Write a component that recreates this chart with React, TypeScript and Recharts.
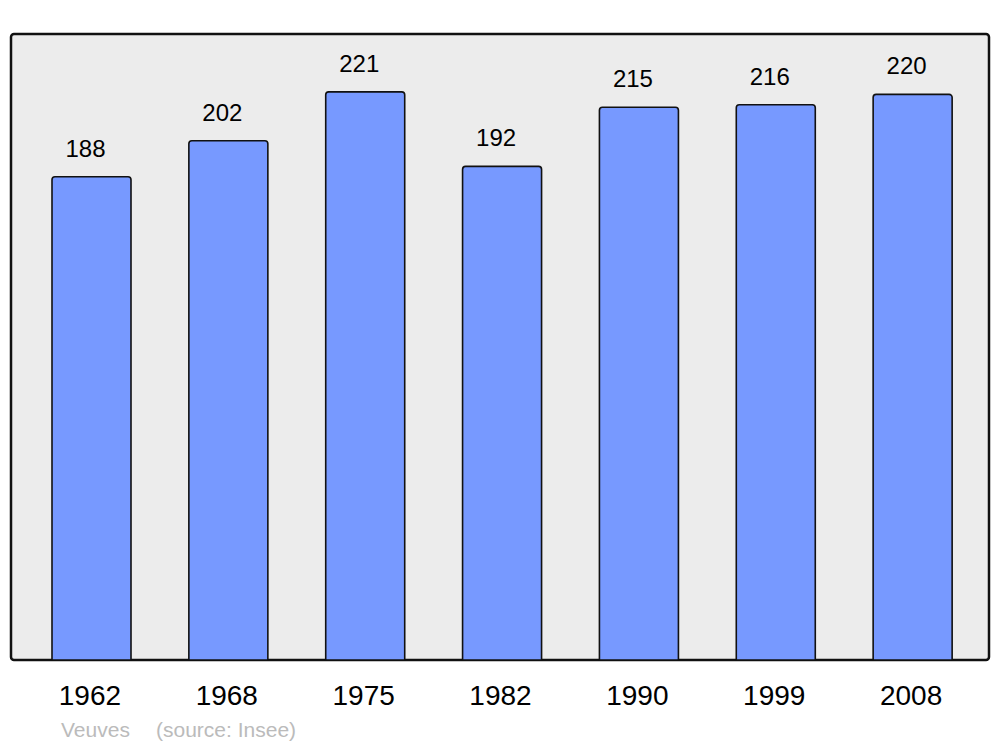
import React from 'react';
import { BarChart, Bar, XAxis, YAxis, LabelList, Customized } from 'recharts';

const years = ['1962', '1968', '1975', '1982', '1990', '1999', '2008'];
const values = [188, 202, 221, 192, 215, 216, 220];
const seriesName = 'Veuves';
const sourceText = '(source: Insee)';

const data = years.map((y, i) => ({ year: y, value: values[i] }));

const W = 1000;
const H = 747;
const AXIS_H = 30;
const margin = { top: 34, right: 11, bottom: 57, left: 11 };
const FONT = '"Liberation Sans", Arial, sans-serif';

const Frame = () => (
  <g>
    <rect
      x={margin.left}
      y={margin.top}
      width={W - margin.left - margin.right}
      height={H - margin.top - margin.bottom - AXIS_H}
      rx={3}
      ry={3}
      fill="#ececec"
      stroke="#111"
      strokeWidth={2.5}
    />
  </g>
);

const Footer = () => (
  <g>
    <text x={61} y={737} fontSize={21} fill="#bbbbbb" fontFamily={FONT}>
      {seriesName}
    </text>
    <text x={156} y={737} fontSize={21} fill="#bbbbbb" fontFamily={FONT}>
      {sourceText}
    </text>
  </g>
);

const Tick = (props: any) => {
  const { x, y, payload } = props;
  return (
    <text x={x - 1.5} y={y + 45} textAnchor="middle" fontSize={28} fill="#000" fontFamily={FONT}>
      {payload.value}
    </text>
  );
};

export default function App() {
  return (
    <div style={{ position: 'absolute', left: 0, top: 0, width: W, height: H, background: '#fff' }}>
      <BarChart width={W} height={H} data={data} margin={margin} style={{ fontFamily: FONT }}>
        <Customized component={<Frame />} />
        <XAxis
          dataKey="year"
          height={AXIS_H}
          axisLine={false}
          tickLine={false}
          tickSize={0}
          tickMargin={0}
          padding={{ left: 12, right: 8 }}
          tick={<Tick />}
          interval={0}
        />
        <YAxis hide domain={[0, 243.5]} />
        <Bar
          dataKey="value"
          fill="#7799ff"
          stroke="#111"
          strokeWidth={1.6}
          barSize={79}
          radius={[3, 3, 0, 0]}
          isAnimationActive={false}
        >
          <LabelList dataKey="value" position="top" offset={20} dx={-6} fill="#000" fontSize={24} fontFamily={FONT} />
        </Bar>
        <Customized component={<Footer />} />
      </BarChart>
    </div>
  );
}
